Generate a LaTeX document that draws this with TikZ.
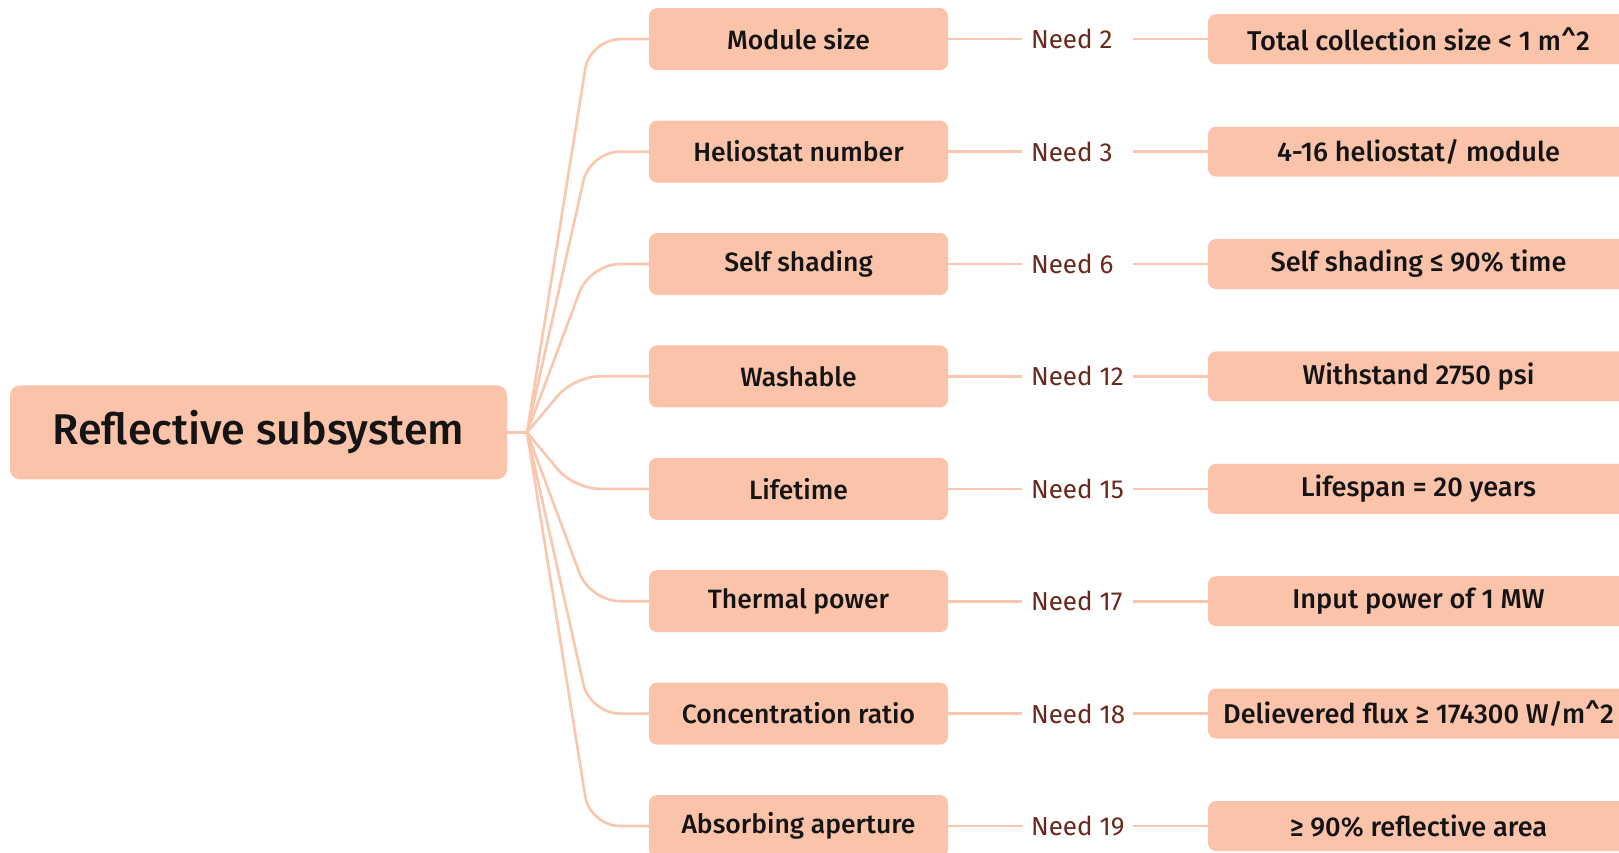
\documentclass[tikz,border=0pt]{standalone}
\usepackage{fontspec}
\setmainfont{Fira Sans}[BoldFont={Fira Sans Medium}]
\definecolor{boxfill}{RGB}{251,196,170}
\definecolor{linec}{RGB}{250,198,174}
\definecolor{needc}{RGB}{105,40,25}
\newcommand{\needtxt}[1]{\makebox[93pt][l]{#1}}
\tikzset{
  x=1pt,y=1pt,
  box/.style={fill=boxfill, rounded corners=8pt, inner sep=0pt, text=black!92},
  rootbox/.style={box, rounded corners=10pt, minimum width=497pt, minimum height=94pt, font=\fontsize{43}{50}\selectfont\bfseries},
  childbox/.style={box, minimum width=299pt, minimum height=62pt, font=\fontsize{26.5}{31}\selectfont\bfseries},
  reqbox/.style={box, minimum width=421pt, minimum height=50pt, font=\fontsize{27.2}{31}\selectfont\bfseries},
  needlbl/.style={text=needc, inner xsep=9pt, inner ysep=4pt, font=\fontsize{26}{31}\selectfont},
  link/.style={draw=linec, line width=2.6pt},
}
\begin{document}
\begin{tikzpicture}
\useasboundingbox (0,0) rectangle (1619,-853);
\fill[white] (0,0) rectangle (1619,-853);
\node[rootbox] (root) at (258.5,-432.4) {Reflective subsystem};
\coordinate (fork) at (527,-432.4);
\draw[link] (root.east) -- (fork);
\foreach \i/\cxx/\rad/\ctext/\ntext/\rtext in {
  0/590/30/Module size/Need 2/{Total collection size < 1 m\textasciicircum 2},
  1/590/30/Heliostat number/Need 3/{4-16 heliostat\slash\ module},
  2/590/30/Self shading/Need 6/{Self shading ≤ 90\% time},
  3/574/25/Washable/Need 12/{Withstand 2750 psi},
  4/574/25/Lifetime/Need 15/{Lifespan = 20 years},
  5/590/30/Thermal power/Need 17/{Input power of 1 MW},
  6/590/30/Concentration ratio/Need 18/{Delievered flux ≥ 174300 W/m\textasciicircum 2},
  7/590/30/Absorbing aperture/Need 19/{≥ 90\% reflective area}}{
  \pgfmathsetmacro{\yy}{-39.2-112.4*\i}
  \node[childbox] (c\i) at (798.5,\yy) {\ctext};
  \node[needlbl] (n\i) at (1077.5,\yy) {\needtxt{\ntext}};
  \node[reqbox] (r\i) at (1418.5,\yy) {\rtext};
  \coordinate (k\i) at (\cxx,\yy);
  \draw[link, rounded corners=\rad pt] (fork) -- (k\i) -- (c\i.west);
  \draw[link] (c\i.east) -- (n\i.west);
  \draw[link] (n\i.east) -- (r\i.west);
}
\end{tikzpicture}
\end{document}
